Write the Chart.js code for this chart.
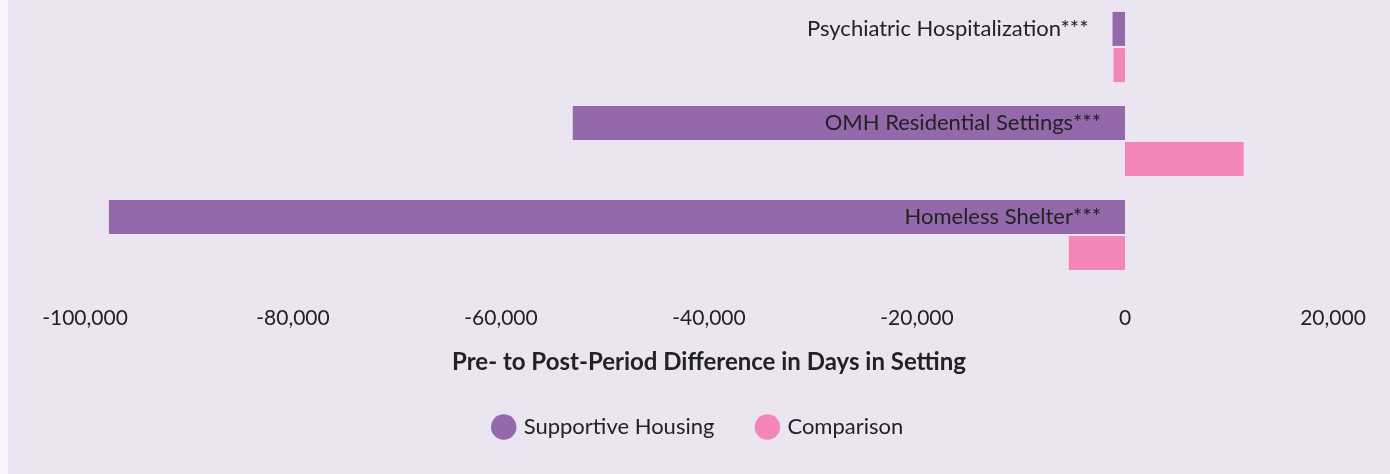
<!DOCTYPE html>
<html>
<head>
<meta charset="utf-8">
<script src="https://cdn.jsdelivr.net/npm/chart.js@4/dist/chart.umd.min.js"></script>
<style>
    body { margin: 0; background: #f7f5fa; }
    #wrap { position: absolute; left: 8px; top: 0; width: 1382px; height: 474px; background: #ebe5f1; }
</style>
</head>
<body>
<div id="wrap"><canvas id="myChart"></canvas></div>
<script>
const categories = ['Psychiatric Hospitalization***', 'OMH Residential Settings***', 'Homeless Shelter***']
const supportiveHousing = [-1200, -53100, -97700]
const comparison = [-1100, 11400, -5400]
const xTicks = [-100000, -80000, -60000, -40000, -20000, 0, 20000]
const axisTitle = 'Pre- to Post-Period Difference in Days in Setting'

const Stats = (function () {
    let _configMap = {
        chartPointer: "",
        chart: "",
        fontFamily: 'Lato, "Noto Sans", sans-serif'
    }

    // category names go inside the purple bar at its zero end,
    // or just left of it when the bar is too short to hold the text
    const _categoryLabels = {
        id: 'categoryLabels',
        afterDatasetsDraw: function (chart) {
            const ctx = chart.ctx
            const bars = chart.getDatasetMeta(0).data
            ctx.save()
            ctx.font = '22px ' + _configMap.fontFamily
            ctx.fillStyle = '#222'
            ctx.textAlign = 'right'
            ctx.textBaseline = 'middle'
            chart.data.labels.forEach(function (label, i) {
                const bar = bars[i]
                const left = Math.min(bar.x, bar.base)
                const right = Math.max(bar.x, bar.base)
                const w = ctx.measureText(label).width
                const anchor = (right - left > w + 48) ? right : left
                ctx.fillText(label, anchor - 24, bar.y)
            })
            ctx.restore()
        }
    }

    const _init = function () {
        Chart.defaults.font.family = _configMap.fontFamily
        Chart.defaults.color = '#222'

        _configMap.chartPointer = document.getElementById('myChart').getContext('2d')

        _configMap.chart = new Chart(_configMap.chartPointer, {
            type: 'bar',
            data: {
                labels: categories,
                datasets: [
                    { label: 'Supportive Housing', data: supportiveHousing, backgroundColor: '#9469ac' },
                    { label: 'Comparison', data: comparison, backgroundColor: '#f386b6' }
                ]
            },
            plugins: [_categoryLabels],
            options: {
                indexAxis: 'y',
                responsive: true,
                maintainAspectRatio: false,
                animation: false,
                categoryPercentage: 0.77,
                barPercentage: 0.94,
                layout: { padding: { left: 57, right: 57, top: 0, bottom: 26 } },
                scales: {
                    x: {
                        min: xTicks[0],
                        max: xTicks[xTicks.length - 1],
                        grid: { display: false },
                        border: { display: false },
                        afterBuildTicks: function (scale) {
                            scale.ticks = xTicks.map(v => ({ value: v }))
                        },
                        afterFit: function (scale) {
                            scale.paddingLeft = 77
                            scale.paddingRight = 57
                        },
                        ticks: {
                            padding: 16,
                            maxRotation: 0,
                            font: { size: 21 },
                            callback: v => v.toLocaleString('en-US')
                        },
                        title: {
                            display: true,
                            text: axisTitle,
                            font: { size: 24, weight: 'bold' },
                            padding: { top: 1, bottom: -5 }
                        }
                    },
                    y: {
                        display: false
                    }
                },
                plugins: {
                    tooltip: { enabled: false },
                    legend: {
                        position: 'bottom',
                        labels: {
                            usePointStyle: true,
                            pointStyle: 'circle',
                            boxHeight: 18,
                            boxWidth: 18,
                            padding: 44,
                            font: { size: 22 }
                        }
                    }
                }
            }
        })
    }

    return {
        init: _init
    }
})()

Stats.init()
</script>
</body>
</html>
